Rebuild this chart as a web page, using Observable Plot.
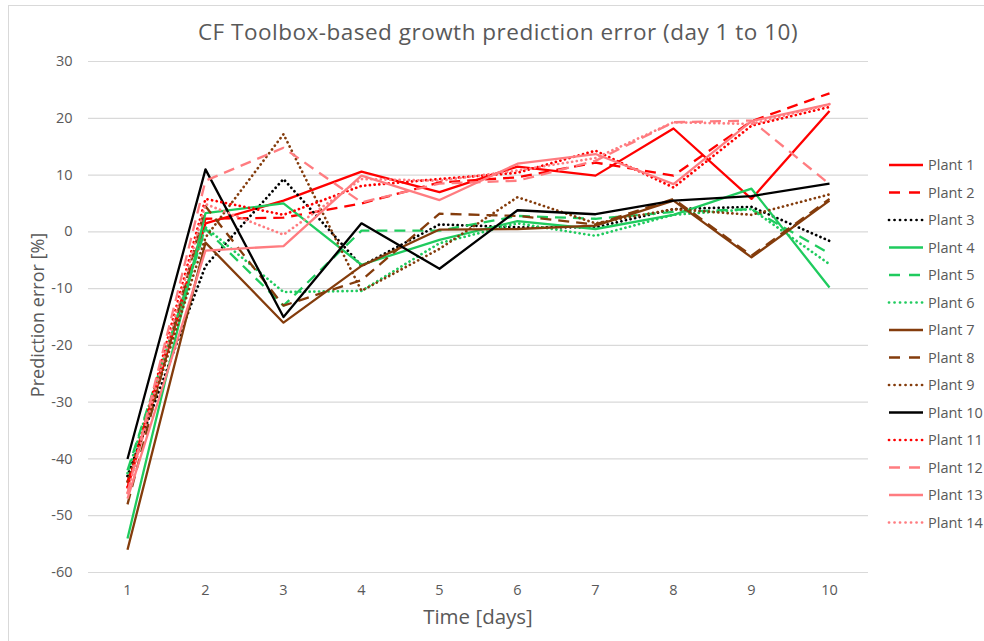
<!DOCTYPE html>
<html>
<head>
<meta charset="utf-8">
<script src="https://cdn.jsdelivr.net/npm/d3@7"></script>
<script src="https://cdn.jsdelivr.net/npm/@observablehq/plot@0.6"></script>
<style>
  html, body { margin: 0; padding: 0; background: #fff; }
  #wrap { position: relative; width: 984px; height: 641px; overflow: hidden; font-family: "Open Sans", sans-serif; color: #595959; }
  #frame { position: absolute; left: 8px; top: 5px; width: 1000px; height: 700px; border: 1px solid #d9d9d9; box-sizing: border-box; }
  #title { position: absolute; left: 88px; width: 820px; top: 16px; text-align: center; font-size: 22.5px; letter-spacing: 0.5px; color: #595959; }
  #xlabel { position: absolute; left: 88px; width: 780px; top: 602px; text-align: center; font-size: 20.5px; color: #595959; }
  #ylabel { position: absolute; left: 37px; top: 315px; transform: translate(-50%, -50%) rotate(-90deg); white-space: nowrap; font-size: 18px; color: #595959; }
  #chart { position: absolute; left: 0; top: 0; }
  #legend { position: absolute; left: 880px; top: 150px; }
</style>
</head>
<body>
<div id="wrap">
  <div id="frame"></div>
  <div id="chart"></div>
  <div id="title">CF Toolbox-based growth prediction error (day 1 to 10)</div>
  <div id="xlabel">Time [days]</div>
  <div id="ylabel">Prediction error [%]</div>
  <div id="legend"></div>
</div>
<script>
const days = [1, 2, 3, 4, 5, 6, 7, 8, 9, 10];
const yTicks = [30, 20, 10, 0, -10, -20, -30, -40, -50, -60];
const plantNames = ["Plant 1","Plant 2","Plant 3","Plant 4","Plant 5","Plant 6","Plant 7","Plant 8","Plant 9","Plant 10","Plant 11","Plant 12","Plant 13","Plant 14"];

const plant1  = [-45, 1.5, 5.5, 10.6, 7.0, 11.5, 9.9, 18.2, 5.8, 21.3];
const plant2  = [-44, 2.3, 2.5, 5.0, 8.7, 9.6, 12.2, 9.9, 19.5, 24.4];
const plant3  = [-43, -6.0, 9.3, -6.0, 1.3, 0.8, 0.8, 4.0, 4.4, -1.6];
const plant4  = [-54, 3.3, 5.0, -5.8, -1.4, 1.9, 0.5, 3.0, 7.6, -9.8];
const plant5  = [-42, 0.5, -13.0, 0.2, 0.2, 2.8, 2.3, 3.5, 4.0, -3.8];
const plant6  = [-42.5, 0.8, -10.6, -10.4, -2.0, 1.5, -0.7, 3.0, 4.0, -5.7];
const plant7  = [-56, -1.9, -16.0, -6.0, 0.4, 0.5, 1.1, 5.5, -4.5, 5.5];
const plant8  = [-48, 4.5, -13.0, -8.5, 3.2, 2.8, 1.3, 5.8, -4.2, 5.8];
const plant9  = [-44, -1.0, 17.2, -10.4, -3.0, 6.1, 1.5, 4.0, 3.0, 6.6];
const plant10 = [-40, 11.0, -15.0, 1.5, -6.5, 3.8, 3.1, 5.5, 6.3, 8.5];
const plant11 = [-45, 5.8, 3.0, 8.1, 9.3, 10.4, 14.3, 7.8, 18.7, 22.0];
const plant12 = [-46, 9.0, 14.8, 5.2, 8.5, 9.0, 12.5, 19.3, 19.6, 8.4];
const plant13 = [-47, -3.3, -2.5, 9.9, 5.6, 12.0, 13.7, 8.4, 19.5, 22.5];
const plant14 = [-46, 4.9, -0.5, 9.3, 9.0, 10.8, 13.0, 19.3, 19.0, 22.5];

const seriesValues = [plant1, plant2, plant3, plant4, plant5, plant6, plant7, plant8, plant9, plant10, plant11, plant12, plant13, plant14];

const RED = "#ff0000", PINK = "#ff7c80", GREEN = "#1fcb5e", BROWN = "#843c0c", BLACK = "#000000";
const plantColors = [RED, RED, BLACK, GREEN, GREEN, GREEN, BROWN, BROWN, BROWN, BLACK, RED, PINK, PINK, PINK];
const plantStyles = ["solid","dash","dot","solid","dash","dot","solid","dash","dot","solid","dot","dash","solid","dot"];

const dashFor = s => s === "dash" ? "11,7" : s === "dot" ? "0.1,4.6" : null;
const capFor = s => s === "dot" ? "round" : "butt";
const widthFor = s => s === "dot" ? 2.7 : 2.3;

const marks = [
  Plot.gridY(yTicks, { stroke: "#d9d9d9", strokeOpacity: 1, strokeWidth: 1.2 }),
  Plot.axisY(yTicks, { tickSize: 0, tickPadding: 16, fontSize: 14.5, label: null, fill: "#595959", tickFormat: d => String(d) }),
  Plot.axisX(days, { tickSize: 0, tickPadding: 12, fontSize: 14.5, label: null, fill: "#595959" })
];
seriesValues.forEach((vals, i) => {
  const data = days.map((d, j) => ({ day: d, value: vals[j], plant: plantNames[i] }));
  const st = plantStyles[i];
  const opts = { x: "day", y: "value", stroke: plantColors[i], strokeWidth: widthFor(st), strokeLinecap: capFor(st), strokeLinejoin: "round" };
  if (dashFor(st)) opts.strokeDasharray = dashFor(st);
  marks.push(Plot.line(data, opts));
});

const chart = Plot.plot({
  width: 984,
  height: 641,
  marginLeft: 88,
  marginRight: 116,
  marginTop: 61,
  marginBottom: 69,
  style: { fontFamily: "'Open Sans', sans-serif", background: "transparent", overflow: "visible" },
  x: { domain: [0.5, 10.5], label: null },
  y: { domain: [-60, 30], label: null },
  marks
});
document.getElementById("chart").appendChild(chart);

// Legend
const lg = d3.select("#legend").append("svg").attr("width", 104).attr("height", 400)
  .style("font-family", "'Open Sans', sans-serif");
plantNames.forEach((name, i) => {
  const y = 15 + i * 27.5;
  const st = plantStyles[i];
  const ln = lg.append("line").attr("x1", 9).attr("x2", 43).attr("y1", y).attr("y2", y)
    .attr("stroke", plantColors[i]).attr("stroke-width", widthFor(st)).attr("stroke-linecap", capFor(st));
  if (dashFor(st)) ln.attr("stroke-dasharray", st === "dash" ? "11,9" : "0.1,5.4");
  lg.append("text").attr("x", 48).attr("y", y).attr("dy", "0.35em").attr("font-size", 14.5)
    .attr("fill", "#595959").text(name);
});
</script>
</body>
</html>
